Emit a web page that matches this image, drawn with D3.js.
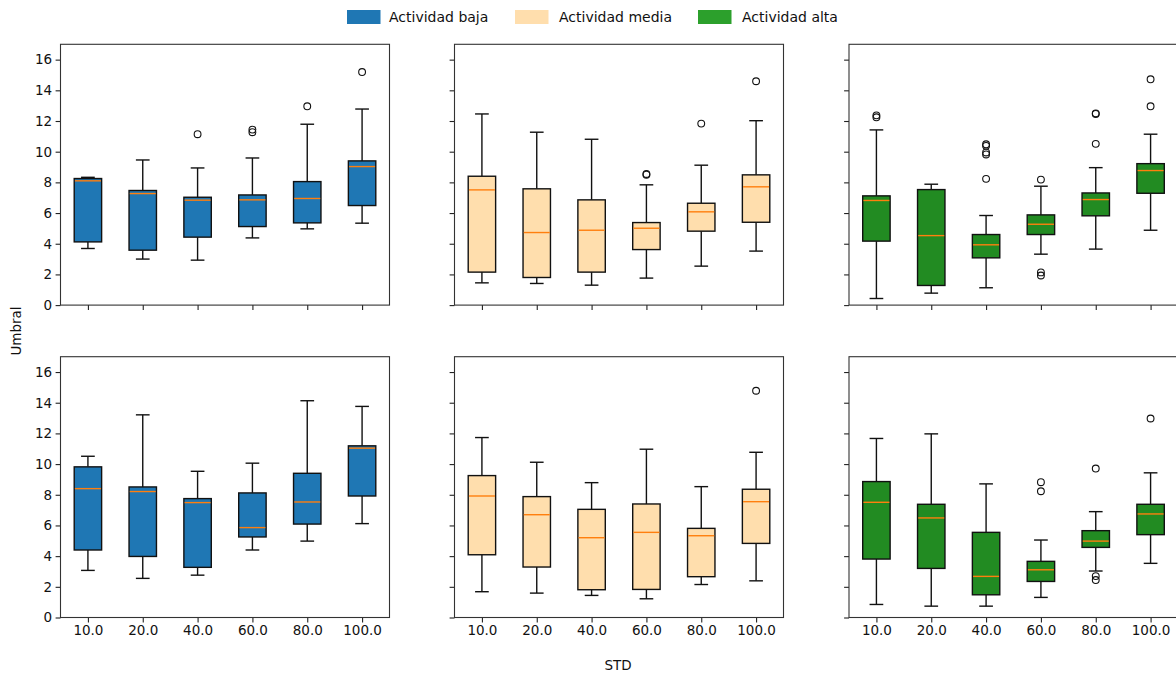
<!DOCTYPE html>
<html>
<head>
<meta charset="utf-8">
<script src="https://cdn.jsdelivr.net/npm/d3@7"></script>
<style>
  body { margin: 0; background: #fff; }
  svg { display: block; font-family: "DejaVu Sans", sans-serif; }
</style>
</head>
<body>
<div id="chart"></div>
<script>
// ---- data ----
const categories = ["10.0", "20.0", "40.0", "60.0", "80.0", "100.0"];
const groups = ["Actividad baja", "Actividad media", "Actividad alta"];
const yTicks = [0, 2, 4, 6, 8, 10, 12, 14, 16];

// statistics indexed [row][group][category]
const whiskerLow = [
  [[3.69, 3.00, 2.93, 4.38, 4.97, 5.34],
   [1.45, 1.41, 1.30, 1.76, 2.54, 3.52],
   [0.43, 0.78, 1.13, 3.32, 3.65, 4.88]],
  [[3.07, 2.55, 2.76, 4.40, 4.98, 6.12],
   [1.68, 1.59, 1.44, 1.22, 2.15, 2.39],
   [0.85, 0.74, 0.74, 1.31, 3.03, 3.53]]
];
const quartile1 = [
  [[4.12, 3.58, 4.43, 5.12, 5.36, 6.49],
   [2.15, 1.80, 2.15, 3.62, 4.82, 5.40],
   [4.17, 1.28, 3.08, 4.60, 5.82, 7.29]],
  [[4.40, 3.98, 3.27, 5.25, 6.09, 7.92],
   [4.09, 3.29, 1.81, 1.83, 2.66, 4.83],
   [3.81, 3.20, 1.48, 2.35, 4.57, 5.40]]
];
const medians = [
  [[8.10, 7.27, 6.84, 6.86, 6.95, 9.03],
   [7.51, 4.73, 4.88, 5.01, 6.08, 7.71],
   [6.82, 4.53, 3.93, 5.27, 6.88, 8.77]],
  [[8.40, 8.21, 7.49, 5.86, 7.53, 11.04],
   [7.92, 6.70, 5.20, 5.55, 5.33, 7.55],
   [7.51, 6.49, 2.68, 3.11, 4.98, 6.75]]
];
const quartile3 = [
  [[8.25, 7.47, 7.03, 7.18, 8.05, 9.40],
   [8.40, 7.58, 6.86, 5.38, 6.64, 8.49],
   [7.12, 7.53, 4.60, 5.88, 7.31, 9.22]],
  [[9.82, 8.51, 7.75, 8.12, 9.40, 11.19],
   [9.25, 7.88, 7.05, 7.40, 5.81, 8.36],
   [8.86, 7.38, 5.55, 3.66, 5.66, 7.38]]
];
const whiskerHigh = [
  [[8.33, 9.46, 8.94, 9.59, 11.79, 12.78],
   [12.46, 11.27, 10.81, 7.84, 9.12, 12.02],
   [11.42, 7.88, 5.84, 7.75, 8.96, 11.14]],
  [[10.51, 13.21, 9.53, 10.06, 14.13, 13.76],
   [11.73, 10.12, 8.79, 10.97, 8.53, 10.77],
   [11.67, 11.97, 8.71, 5.05, 6.90, 9.43]]
];
const outliers = [
  [[[], [], [11.14], [11.44, 11.27], [12.96], [15.19]],
   [[], [], [], [8.55, 8.50], [11.83], [14.59]],
   [[12.37, 12.24], [], [10.48, 10.38, 9.95, 9.82, 8.23], [8.18, 2.13, 1.93], [12.50, 12.46, 10.51], [14.72, 12.96]]],
  [[[], [], [], [], [], []],
   [[], [], [], [], [], [14.78]],
   [[], [], [], [8.82, 8.23], [9.71, 2.70, 2.44], [12.97]]]
];

// ---- styles ----
const boxFill = ["#1f77b4", "#ffdead", "#228b22"];
const legendFill = ["#1f77b4", "#ffdead", "#2ca02c"];
const medianColor = "#ff7f0e";

const W = 1176, H = 677;
const panelLeft = [60.5, 454.5, 849];
const panelTop = [44.3, 356.7];
const panelW = 329, panelH = 260.8;

const svg = d3.select("#chart").append("svg")
  .attr("width", W).attr("height", H);

const yScaleBase = d3.scaleLinear().domain([0, 17]);
const xBase = d3.scalePoint().domain(categories).padding(0.5);

for (let r = 0; r < 2; r++) {
  for (let g = 0; g < 3; g++) {
    const x0 = panelLeft[g], y0 = panelTop[r];
    const y = yScaleBase.copy().range([panelH, 0]);
    const x = xBase.copy().range([0, panelW]);
    const step = x.step();
    const bw = step * 0.5;
    const gp = svg.append("g").attr("transform", `translate(${x0},${y0})`);

    // axes
    const yAxis = d3.axisLeft(y).tickValues(yTicks).tickSizeOuter(0).tickSize(4.9).tickPadding(3.5)
      .tickFormat(g === 0 ? d3.format("d") : () => "");
    const ya = gp.append("g").call(yAxis);
    const xAxis = d3.axisBottom(x).tickSizeOuter(0).tickSize(4.9).tickPadding(3.5)
      .tickFormat(r === 1 ? (d => d) : () => "");
    const xa = gp.append("g").attr("transform", `translate(0,${panelH})`).call(xAxis);
    [ya, xa].forEach(a => {
      a.select(".domain").remove();
      a.selectAll(".tick line").attr("stroke", "#222").attr("stroke-width", 1.1);
      a.selectAll(".tick text").attr("fill", "#111").style("font-size", "13.5px")
        .style("font-family", "DejaVu Sans, sans-serif");
    });

    // boxes
    categories.forEach((c, i) => {
      const cx = x(c);
      const lo = whiskerLow[r][g][i], q1 = quartile1[r][g][i], md = medians[r][g][i],
            q3 = quartile3[r][g][i], hi = whiskerHigh[r][g][i];
      const bg = gp.append("g");
      // whiskers
      bg.append("line").attr("x1", cx).attr("x2", cx).attr("y1", y(q3)).attr("y2", y(hi))
        .attr("stroke", "#111").attr("stroke-width", 1.4);
      bg.append("line").attr("x1", cx).attr("x2", cx).attr("y1", y(q1)).attr("y2", y(lo))
        .attr("stroke", "#111").attr("stroke-width", 1.4);
      // caps
      [lo, hi].forEach(v => {
        bg.append("line").attr("x1", cx - bw / 4).attr("x2", cx + bw / 4)
          .attr("y1", y(v)).attr("y2", y(v)).attr("stroke", "#111").attr("stroke-width", 1.4);
      });
      // box
      bg.append("rect").attr("x", cx - bw / 2).attr("width", bw)
        .attr("y", y(q3)).attr("height", y(q1) - y(q3))
        .attr("fill", boxFill[g]).attr("stroke", "#111").attr("stroke-width", 1.4);
      // median
      bg.append("line").attr("x1", cx - bw / 2 + 0.7).attr("x2", cx + bw / 2 - 0.7)
        .attr("y1", y(md)).attr("y2", y(md)).attr("stroke", medianColor).attr("stroke-width", 1.4);
      // outliers
      outliers[r][g][i].forEach(v => {
        bg.append("circle").attr("cx", cx).attr("cy", y(v)).attr("r", 3.4)
          .attr("fill", "none").attr("stroke", "#111").attr("stroke-width", 1.1);
      });
    });

    // frame
    gp.append("rect").attr("x", 0).attr("y", 0).attr("width", panelW).attr("height", panelH)
      .attr("fill", "none").attr("stroke", "#333").attr("stroke-width", 1.1);
  }
}

// legend
const legendX = [347, 515, 698];
const legendTextX = [389, 559, 742];
groups.forEach((name, i) => {
  svg.append("rect").attr("x", legendX[i]).attr("y", 10).attr("width", 33.5).attr("height", 14)
    .attr("fill", legendFill[i]);
  svg.append("text").attr("x", legendTextX[i]).attr("y", 22)
    .style("font-size", "14px").attr("fill", "#111").text(name);
});

// axis labels
svg.append("text").attr("transform", "translate(21,331) rotate(-90)")
  .attr("text-anchor", "middle").style("font-size", "13.5px").attr("fill", "#111").text("Umbral");
svg.append("text").attr("x", 618).attr("y", 670)
  .attr("text-anchor", "middle").style("font-size", "13.5px").attr("fill", "#111").text("STD");
</script>
</body>
</html>
